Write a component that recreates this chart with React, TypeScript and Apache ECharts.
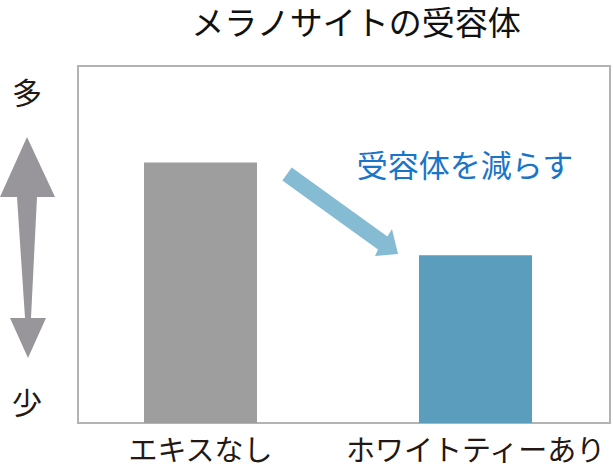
import { useEffect, useRef } from "react";
import * as echarts from "echarts";

const categories = ["エキスなし", "ホワイトティーあり"];
const values = [73, 47];
const barColors = ["#9e9e9e", "#5b9dbd"];
const titleText = "メラノサイトの受容体";
const noteText = "受容体を減らす";
const moreLabel = "多";
const lessLabel = "少";

const FONT = '"Noto Sans CJK JP", "Noto Sans", sans-serif';
const INK = "#231815";

export default function App() {
  const chartRef = useRef<HTMLDivElement>(null);

  useEffect(() => {
    document.body.style.margin = "0";
    if (!chartRef.current) return;
    const chart = echarts.init(chartRef.current, undefined, { renderer: "svg" });

    const option: echarts.EChartsOption = {
      animation: false,
      textStyle: { fontFamily: FONT },
      grid: { left: 63, right: -1, top: 66, bottom: 53 },
      xAxis: {
        type: "category",
        data: categories,
        axisLine: { show: false },
        axisTick: { show: false },
        axisLabel: {
          fontSize: 29,
          color: INK,
          margin: 10,
          interval: 0,
          hideOverlap: false,
          fontFamily: FONT,
        },
      },
      yAxis: {
        type: "value",
        min: 0,
        max: 100,
        show: false,
      },
      series: [
        {
          type: "bar",
          barWidth: 113,
          data: values.map((v, i) => ({ value: v, itemStyle: { color: barColors[i] } })),
          z: 3,
        },
      ],
      graphic: [
        {
          type: "text",
          x: 356,
          y: 21,
          style: {
            text: titleText, fontSize: 33, fill: "#111", fontFamily: FONT,
            align: "center", verticalAlign: "middle",
          },
        },
        {
          type: "rect",
          shape: { x: 78, y: 66, width: 532, height: 357 },
          style: { fill: "none", stroke: "#b3b3b3", lineWidth: 2 },
          z: 1,
        },
        {
          type: "polygon",
          shape: {
            points: [
              [27, 137], [55, 197], [37, 197], [31, 318], [46, 318],
              [28, 358], [10, 318], [25, 318], [17, 197], [0, 197],
            ],
          },
          style: { fill: "#98969b" },
        },
        {
          type: "polygon",
          shape: {
            points: [
              [291.7, 167.5], [387.4, 236.5], [392, 229], [398, 254],
              [375, 256], [378, 249.5], [282.3, 180.5],
            ],
          },
          style: { fill: "#85bcd3" },
        },
        {
          type: "text",
          x: 27,
          y: 91,
          style: {
            text: moreLabel, fontSize: 30, fill: INK, fontFamily: FONT,
            align: "center", verticalAlign: "middle",
          },
        },
        {
          type: "text",
          x: 27,
          y: 401,
          style: {
            text: lessLabel, fontSize: 30, fill: INK, fontFamily: FONT,
            align: "center", verticalAlign: "middle",
          },
        },
        {
          type: "text",
          x: 465,
          y: 163,
          style: {
            text: noteText, fontSize: 31, fill: "#1a75c9", fontFamily: FONT,
            align: "center", verticalAlign: "middle",
          },
        },
      ],
    };

    chart.setOption(option);
    return () => chart.dispose();
  }, []);

  return <div ref={chartRef} style={{ width: 613, height: 476 }} />;
}
